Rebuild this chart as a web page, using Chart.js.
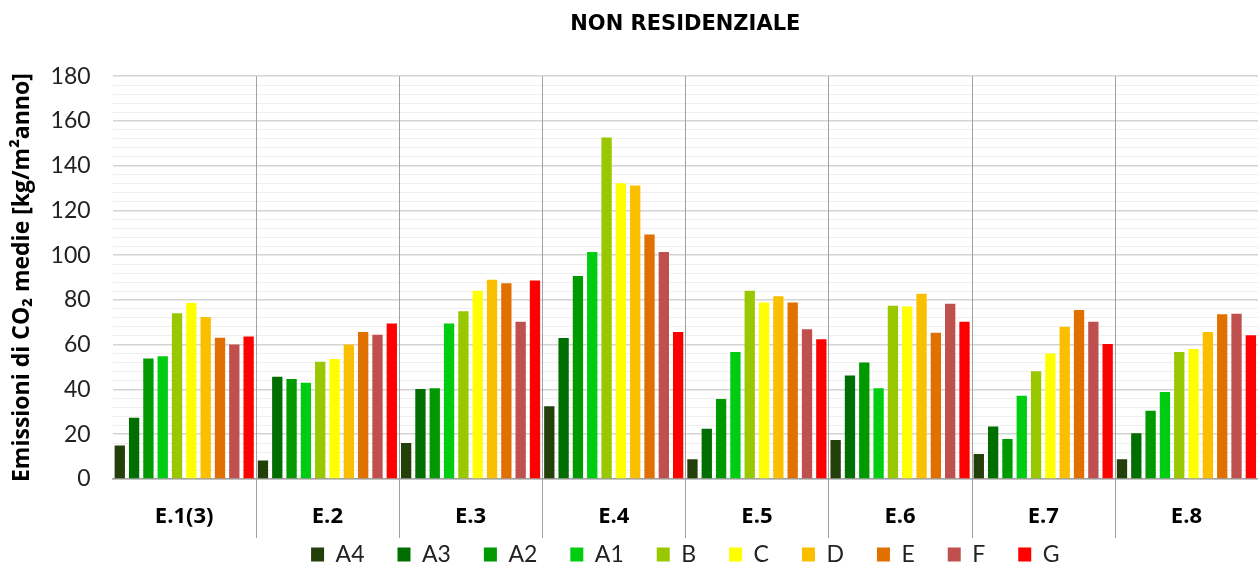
<!DOCTYPE html>
<html lang="it">
<head>
<meta charset="UTF-8">
<title>Non residenziale</title>
<script src="https://cdn.jsdelivr.net/npm/chart.js"></script>
<style>
    html, body { margin: 0; padding: 0; background: #fff; }
    #wrap { width: 1258px; height: 567px; }
</style>
</head>
<body>
<div id="wrap"><canvas id="chart"></canvas></div>
<script>
    const categories = ['E.1(3)', 'E.2', 'E.3', 'E.4', 'E.5', 'E.6', 'E.7', 'E.8'];
    const classes = ['A4', 'A3', 'A2', 'A1', 'B', 'C', 'D', 'E', 'F', 'G'];
    const classColors = ['#233f0a', '#006e00', '#009a00', '#00cc12', '#99c800', '#ffff00', '#fac000', '#e07000', '#c0504d', '#ff0000'];

    // emissioni medie per classe, un valore per categoria
    const A4 = [15, 8.3, 16.1, 32.5, 8.8, 17.4, 11.2, 8.8];
    const A3 = [27.4, 45.7, 40.2, 63, 22.5, 46.3, 23.5, 20.4];
    const A2 = [53.9, 44.7, 40.6, 90.7, 35.7, 52.1, 17.9, 30.5];
    const A1 = [54.8, 43, 69.5, 101.4, 56.7, 40.6, 37.2, 38.9];
    const B = [74.1, 52.4, 75, 152.6, 84.1, 77.4, 48.1, 56.7];
    const C = [78.6, 53.6, 84.1, 132.2, 78.9, 77.1, 56.1, 58.1];
    const D = [72.4, 60.1, 89, 131.2, 81.7, 82.8, 68, 65.7];
    const E = [63.1, 65.7, 87.5, 109.3, 78.9, 65.4, 75.5, 73.6];
    const F = [60.1, 64.5, 70.3, 101.4, 66.9, 78.3, 70.3, 73.8];
    const G = [63.7, 69.5, 88.7, 65.7, 62.5, 70.3, 60.3, 64.2];
    const seriesValues = [A4, A3, A2, A1, B, C, D, E, F, G];

    const yMax = 180;
    const yMinorStep = 4;
    const yLabelStep = 20;

    const datasets = classes.map((name, i) => ({
        label: name,
        data: seriesValues[i],
        backgroundColor: classColors[i],
        borderWidth: 0,
        barPercentage: 0.72,
        categoryPercentage: 1.0
    }));

    // separatori tra categorie (dall'alto fino sotto le etichette); legenda alzata di poco
    const categorySeparators = {
        id: 'categorySeparators',
        afterLayout(chart) {
            const lg = chart.legend;
            if (lg) { lg.top -= 17; lg.bottom = chart.height; }
        },
        afterDraw(chart) {
            const x = chart.scales.x;
            const c = chart.ctx;
            const { top, bottom } = chart.chartArea;
            c.save();
            c.strokeStyle = '#a0a0a0';
            c.lineWidth = 1;
            for (let i = 1; i < categories.length; i++) {
                const px = Math.round((x.getPixelForTick(i - 1) + x.getPixelForTick(i)) / 2) + 0.5;
                c.beginPath();
                c.moveTo(px, top);
                c.lineTo(px, bottom + 59);
                c.stroke();
            }
            c.restore();
        }
    };

    const ctx = document.getElementById('chart').getContext('2d');
    new Chart(ctx, {
        type: 'bar',
        data: { labels: categories, datasets: datasets },
        plugins: [categorySeparators],
        options: {
            responsive: true,
            maintainAspectRatio: false,
            animation: false,
            layout: { padding: { top: 8, left: 8, right: 0, bottom: 0 } },
            plugins: {
                tooltip: { enabled: false },
                title: {
                    display: true,
                    fullSize: false,
                    text: 'NON RESIDENZIALE',
                    color: '#000',
                    font: { family: 'DejaVu Sans', size: 21, weight: 'bold' },
                    padding: { top: 4, bottom: 39 }
                },
                legend: {
                    position: 'bottom',
                    fullSize: false,
                    maxHeight: 40,
                    labels: {
                        color: '#222',
                        font: { family: 'Lato', size: 23 },
                        boxWidth: 13,
                        boxHeight: 14,
                        padding: 33
                    }
                }
            },
            scales: {
                x: {
                    afterFit: (scale) => { scale.height = 48; },
                    grid: {
                        offset: true,
                        drawTicks: false,
                        color: 'transparent'
                    },
                    border: { display: true, color: '#a0a0a0', width: 1.5 },
                    ticks: {
                        color: '#000',
                        padding: 25,
                        font: { family: 'Open Sans', size: 22, weight: 'bold' }
                    }
                },
                y: {
                    min: 0,
                    max: yMax,
                    border: { display: false },
                    grid: {
                        drawTicks: false,
                        color: (c) => (c.tick.value % yLabelStep === 0 ? '#d4d4d4' : '#efefef'),
                        lineWidth: (c) => (c.tick.value % yLabelStep === 0 ? 1.5 : 1)
                    },
                    ticks: {
                        stepSize: yMinorStep,
                        autoSkip: false,
                        padding: 22,
                        color: '#222',
                        font: { family: 'Lato', size: 23 },
                        callback: (v) => (v % yLabelStep === 0 ? v : '')
                    },
                    title: {
                        display: true,
                        text: 'Emissioni di CO\u2082 medie [kg/m\u00B2anno]',
                        color: '#000',
                        font: { family: 'Open Sans', size: 23, weight: 'bold' },
                        padding: { top: 1, bottom: -8 }
                    }
                }
            }
        }
    });
</script>
</body>
</html>
